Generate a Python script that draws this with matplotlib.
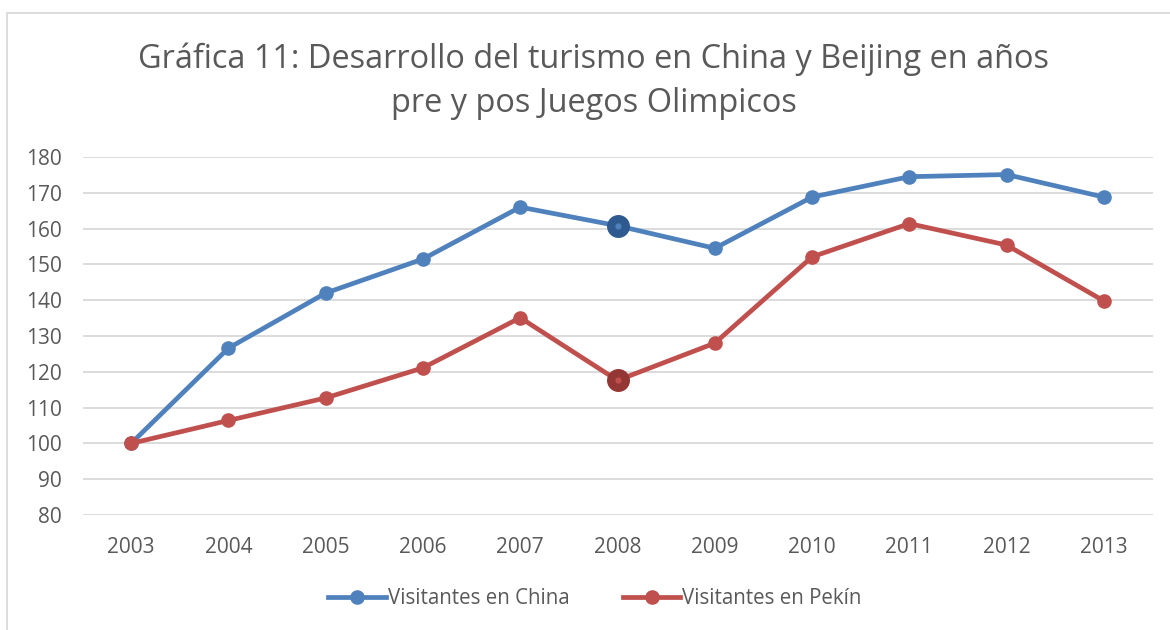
import matplotlib
matplotlib.use("Agg")
import matplotlib.pyplot as plt
from matplotlib.lines import Line2D

years = ["2003", "2004", "2005", "2006", "2007", "2008", "2009", "2010", "2011", "2012", "2013"]
china = [100, 126.6, 142.0, 151.5, 166.0, 160.8, 154.5, 168.8, 174.5, 175.1, 168.8]
pekin = [100, 106.4, 112.7, 121.1, 135.1, 117.6, 128.0, 152.1, 161.4, 155.4, 139.8]
highlight_idx = 5
yticks = [80, 90, 100, 110, 120, 130, 140, 150, 160, 170, 180]

plt.rcParams['font.family'] = ['Open Sans', 'DejaVu Sans']
text_c = '#595959'
blue, dblue = '#4F81BD', '#2E5A8F'
red, dred = '#C0504D', '#943634'

fig = plt.figure(figsize=(11.7, 6.3), dpi=100)
ax = fig.add_axes([82.5/1170, 1-515/630, 1070/1170, 358/630])

x = list(range(len(years)))
ax.plot(x, china, color=blue, lw=3.4, marker='o', ms=9.5, zorder=3, solid_capstyle='round')
ax.plot(x, pekin, color=red, lw=3.4, marker='o', ms=9.5, zorder=3, solid_capstyle='round')
ax.plot([x[highlight_idx]], [china[highlight_idx]], 'o', color=dblue, ms=15.5, zorder=4)
ax.plot([x[highlight_idx]], [china[highlight_idx]], 'o', color=blue, ms=3.5, zorder=5)
ax.plot([x[highlight_idx]], [pekin[highlight_idx]], 'o', color=dred, ms=15.5, zorder=4)
ax.plot([x[highlight_idx]], [pekin[highlight_idx]], 'o', color=red, ms=3.5, zorder=5)

ax.set_xlim(-0.5, len(years) - 0.5)
ax.set_ylim(80, 180)
ax.set_yticks(yticks)
ax.set_xticks(x)
ax.set_xticklabels(years)
ax.grid(axis='y', color='#D9D9D9', lw=1.3)
ax.set_axisbelow(True)
for s in ax.spines.values():
    s.set_visible(False)
ax.tick_params(length=0, labelsize=15, colors=text_c)
ax.tick_params(axis='y', pad=15)
ax.tick_params(axis='x', pad=16)

fig.text(594/1170, 1-59/630, "Gráfica 11: Desarrollo del turismo en China y Beijing en años",
         ha='center', va='center', fontsize=23.4, color=text_c)
fig.text(594/1170, 1-104/630, "pre y pos Juegos Olimpicos",
         ha='center', va='center', fontsize=23.4, color=text_c)

handles = [Line2D([], [], color=blue, lw=3.4, marker='o', ms=9.5),
           Line2D([], [], color=red, lw=3.4, marker='o', ms=9.5)]
fig.legend(handles, ["Visitantes en China", "Visitantes en Pekín"], loc='center',
           bbox_to_anchor=(595/1170, 1-599/630), ncol=2, frameon=False,
           fontsize=14.8, labelcolor=text_c, handlelength=2.8, handletextpad=0.1,
           columnspacing=2.6)

fig.add_artist(plt.Rectangle((7/1170, -0.1), 1.2, 1-13/630+0.1, transform=fig.transFigure,
                             fill=False, ec='#D9D9D9', lw=1.3))

fig.savefig("out.png", dpi=100, facecolor='white')
